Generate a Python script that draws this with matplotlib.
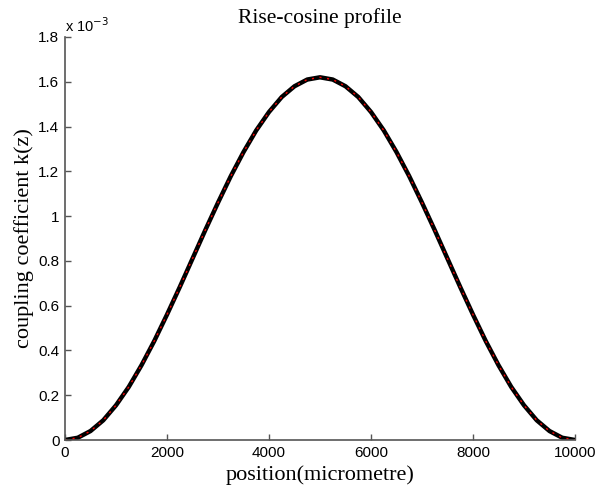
import numpy as np
import matplotlib.pyplot as plt

# position along grating (micrometre), read every 250 um
position = np.arange(0, 10001, 250)
# coupling coefficient k(z) in units of 1e-3
kz = [0.000, 0.010, 0.040, 0.088, 0.155, 0.237, 0.334, 0.442, 0.560, 0.683,
      0.810, 0.937, 1.060, 1.178, 1.286, 1.383, 1.465, 1.532, 1.580, 1.610,
      1.620,
      1.610, 1.580, 1.532, 1.465, 1.383, 1.286, 1.178, 1.060, 0.937, 0.810,
      0.683, 0.560, 0.442, 0.334, 0.237, 0.155, 0.088, 0.040, 0.010, 0.000]

xticks = [0, 2000, 4000, 6000, 8000, 10000]
yticks = [0, 0.2, 0.4, 0.6, 0.8, 1, 1.2, 1.4, 1.6, 1.8]
ytick_labels = ["0", "0.2", "0.4", "0.6", "0.8", "1", "1.2", "1.4", "1.6", "1.8"]

serif = "Liberation Serif"
sans = "Liberation Sans"
axcol = "#555555"

fig = plt.figure(figsize=(5.97, 4.91), dpi=100)
ax = fig.add_axes([65/597, 1-440/491, 510/597, 403/491])

ax.plot(position, kz, color="black", lw=3.2, solid_capstyle="round",
        solid_joinstyle="round")
ax.plot(position, kz, color="red", lw=1, ls=(0, (1.5, 4)))

ax.set_xlim(0, 10000)
ax.set_ylim(0, 1.8)
ax.set_xticks(xticks)
ax.set_xticklabels([str(t) for t in xticks], fontfamily=sans, fontsize=11)
ax.set_yticks(yticks)
ax.set_yticklabels(ytick_labels, fontfamily=sans, fontsize=11)
ax.tick_params(direction="in", length=4, color=axcol, width=1, pad=4)

for s in ["top", "right"]:
    ax.spines[s].set_visible(False)
for s in ["left", "bottom"]:
    ax.spines[s].set_color(axcol)
    ax.spines[s].set_linewidth(1.2)

ax.set_xlabel("position(micrometre)", fontfamily=serif, fontsize=16, labelpad=4)
ax.set_ylabel("coupling coefficient k(z)", fontfamily=serif, fontsize=16, labelpad=3)
ax.set_title("Rise-cosine profile", fontfamily=serif, fontsize=15.5, pad=10)

ax.text(0, 1.005, r"x 10$^{-3}$", transform=ax.transAxes, fontfamily=sans,
        fontsize=10.5, ha="left", va="bottom")

fig.savefig("out.png", dpi=100)
